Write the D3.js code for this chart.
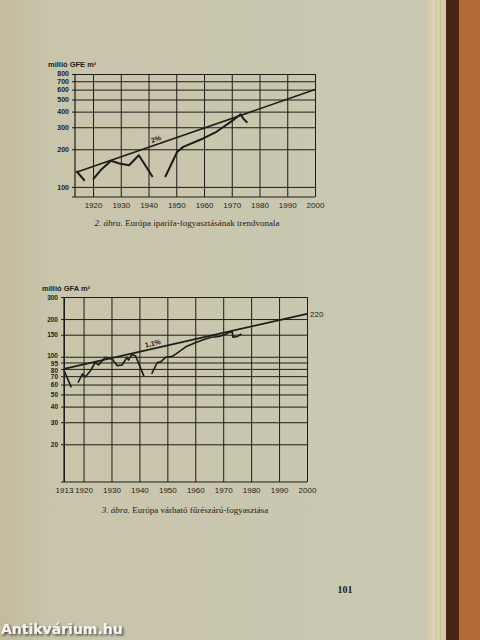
<!DOCTYPE html>
<html>
<head>
<meta charset="utf-8">
<script src="https://cdn.jsdelivr.net/npm/d3@7"></script>
<style>
  html, body { margin: 0; padding: 0; background: #c8c5ad; }
  svg { display: block; }
</style>
</head>
<body>
<div id="page"></div>
<script>
// Chart 2 (top): iparifa, millió GFE m3
var gfeYears = [1914, 1917, 1918, 1920, 1923, 1926.5, 1929.5, 1933, 1936.5, 1941.5, 1944, 1946, 1950.3, 1952.5, 1959.7, 1964.5, 1970.5, 1973.2, 1974.1, 1975.6]
var gfeValues = [134, 112, null, 115, 138, 162, 154, 149, 179, 120, null, 120, 190, 209, 244, 276, 342, 381, 353, 326]
var gfeTrendYears = [1914, 2000]
var gfeTrendValues = [131, 600]
var gfeTicks = [800, 700, 600, 500, 400, 300, 200, 100]
var gfeYearTicks = [1920, 1930, 1940, 1950, 1960, 1970, 1980, 1990, 2000]

// Chart 3 (bottom): fűrészárú, millió GFA m3
var gfaYears = [1913, 1915.6, 1917, 1918, 1919.6, 1920.6, 1922.4, 1924.2, 1925.4, 1927.8, 1930.2, 1932, 1933.8, 1935.6, 1936.1, 1937.2, 1938.6, 1941.6, 1943, 1944.4, 1946.4, 1947.6, 1949.4, 1951.8, 1953, 1956.6, 1960.2, 1962.6, 1965.7, 1968.6, 1971, 1973.2, 1973.5, 1975, 1976.5]
var gfaValues = [78, 57, null, 62, 73, 69, 77, 90, 86, 99, 96, 85, 86, 99, 94, 104, 102, 70, null, 73, 90, 91, 99, 101, 105, 120, 130, 136, 143, 145, 152, 161, 143, 145, 152]
var gfaTrendYears = [1913, 2000]
var gfaTrendValues = [80, 220]
var gfaTicks = [300, 200, 150, 100, 90, 80, 70, 60, 50, 40, 30, 20]
var gfaTickLabels = ['300', '200', '150', '100', '95', '80', '70', '60', '50', '40', '30', '20']
var gfaYearTicks = [1913, 1920, 1930, 1940, 1950, 1960, 1970, 1980, 1990, 2000]

var width = 480
var height = 640
var ink = '#1d1c18'

var svg = d3.select('#page')
  .append('svg')
  .attr('width', width)
  .attr('height', height)

// paper + page edges + cover
var defs = svg.append('defs')
var grad = defs.append('linearGradient').attr('id', 'paper')
  .attr('x1', 0).attr('x2', 1).attr('y1', 0).attr('y2', 0)
grad.append('stop').attr('offset', '0%').attr('stop-color', '#c2bb9c')
grad.append('stop').attr('offset', '12%').attr('stop-color', '#c9c5ab')
grad.append('stop').attr('offset', '100%').attr('stop-color', '#cac8b2')

var shadow = defs.append('filter').attr('id', 'shadow')
  .attr('x', '-10%').attr('y', '-40%').attr('width', '120%').attr('height', '180%')
shadow.append('feDropShadow')
  .attr('dx', 1.5).attr('dy', 1.5).attr('stdDeviation', 1)
  .attr('flood-color', '#222').attr('flood-opacity', 0.8)

svg.append('rect').attr('width', 428).attr('height', height).attr('fill', 'url(#paper)')
svg.append('rect').attr('x', 428).attr('width', 18).attr('height', height).attr('fill', '#d6ceaa')
svg.append('rect').attr('x', 433).attr('width', 1).attr('height', height).attr('fill', '#e3dcbc')
svg.append('rect').attr('x', 440).attr('width', 1).attr('height', height).attr('fill', '#c9bf95')
svg.append('rect').attr('x', 446).attr('width', 13).attr('height', height).attr('fill', '#4a2417')
svg.append('rect').attr('x', 459).attr('width', 21).attr('height', height).attr('fill', '#b26a36')

function drawChart (opt) {
  var g = svg.append('g')
  var x = d3.scaleLinear().domain(opt.xDomain).range(opt.xRange)
  var y = d3.scaleLog().domain(opt.yDomain).range(opt.yRange)

  // horizontal grid with labels
  var yAxis = d3.axisLeft(y)
    .tickValues(opt.yTicks)
    .tickFormat(function (d, i) { return opt.yLabels ? opt.yLabels[i] : d })
    .tickSize(-(opt.xRange[1] - opt.xRange[0]) - opt.tickOut)
    .tickPadding(3)
  g.append('g')
    .attr('transform', 'translate(' + (opt.xRange[0] - opt.tickOut) + ',0)')
    .call(yAxis)
    .call(function (a) {
      a.select('.domain').remove()
      a.selectAll('line').attr('stroke', ink).attr('stroke-width', 1)
      a.selectAll('text')
        .attr('fill', ink)
        .attr('font-family', 'Liberation Sans, Arial, sans-serif')
        .attr('font-weight', 'bold')
        .attr('font-size', opt.yFont)
        .attr('transform', function (d) { return 'translate(0,' + ((opt.yNudge && opt.yNudge[d]) || 0) + ')' })
    })

  // vertical grid with year labels
  var xAxis = d3.axisBottom(x)
    .tickValues(opt.xTicks)
    .tickFormat(d3.format('d'))
    .tickSize(-(opt.yRange[0] - opt.yRange[1]))
    .tickPadding(5)
  g.append('g')
    .attr('transform', 'translate(0,' + opt.yRange[0] + ')')
    .call(xAxis)
    .call(function (a) {
      a.select('.domain').remove()
      a.selectAll('line').attr('stroke', ink).attr('stroke-width', 1)
      a.selectAll('text')
        .attr('fill', ink)
        .attr('font-family', 'Liberation Sans, Arial, sans-serif')
        .attr('font-size', '8px')
    })

  // frame: left and bottom
  g.append('line')
    .attr('x1', opt.xRange[0]).attr('x2', opt.xRange[0])
    .attr('y1', opt.yRange[1]).attr('y2', opt.yRange[0])
    .attr('stroke', ink).attr('stroke-width', 1.2)
  g.append('line')
    .attr('x1', opt.xRange[0] - opt.tickOut).attr('x2', opt.xRange[1])
    .attr('y1', opt.yRange[0]).attr('y2', opt.yRange[0])
    .attr('stroke', ink).attr('stroke-width', 1.2)

  // trend line
  var trend = opt.trendYears.map(function (d, i) { return [d, opt.trendValues[i]] })
  g.append('path')
    .datum(trend)
    .attr('d', d3.line().x(function (d) { return x(d[0]) }).y(function (d) { return y(d[1]) }))
    .attr('fill', 'none')
    .attr('stroke', ink)
    .attr('stroke-width', 1.6)

  // consumption line, with gaps
  var pts = opt.years.map(function (d, i) { return [d, opt.values[i]] })
  g.append('path')
    .datum(pts)
    .attr('d', d3.line()
      .defined(function (d) { return d[1] !== null })
      .x(function (d) { return x(d[0]) })
      .y(function (d) { return y(d[1]) }))
    .attr('fill', 'none')
    .attr('stroke', ink)
    .attr('stroke-width', opt.lineWidth)
    .attr('stroke-linejoin', 'round')

  // slope label on the trend
  var ang = Math.atan2(y(trend[1][1]) - y(trend[0][1]), x(trend[1][0]) - x(trend[0][0])) * 180 / Math.PI
  var lx = x(opt.labelYear)
  var t0 = trend[0]
  var t1 = trend[1]
  var lv = Math.exp(Math.log(t0[1]) + (opt.labelYear - t0[0]) / (t1[0] - t0[0]) * (Math.log(t1[1]) - Math.log(t0[1])))
  g.append('text')
    .attr('transform', 'translate(' + lx + ',' + (y(lv) - 3) + ') rotate(' + ang + ')')
    .attr('text-anchor', 'middle')
    .attr('fill', ink)
    .attr('font-family', 'Liberation Sans, Arial, sans-serif')
    .attr('font-weight', 'bold')
    .attr('font-size', '7px')
    .text(opt.slopeLabel)

  // unit title
  g.append('text')
    .attr('x', opt.unitX)
    .attr('y', opt.unitY)
    .attr('fill', ink)
    .attr('font-family', 'Liberation Sans, Arial, sans-serif')
    .attr('font-weight', 'bold')
    .attr('font-size', '7.5px')
    .text(opt.unit)

  // caption
  var cap = g.append('text')
    .attr('x', opt.capX)
    .attr('y', opt.capY)
    .attr('text-anchor', 'middle')
    .attr('fill', ink)
    .attr('font-family', 'Liberation Serif, Times New Roman, serif')
    .attr('font-size', '9px')
  cap.append('tspan').attr('font-style', 'italic').text(opt.capNum)
  cap.append('tspan').text(' ' + opt.capText)

  return { x: x, y: y, g: g }
}

drawChart({
  xDomain: [1913.5, 2000], xRange: [75, 315],
  yDomain: [83, 800], yRange: [197, 74],
  yTicks: gfeTicks, xTicks: gfeYearTicks, tickOut: 3, yFont: '7px',
  yNudge: { 800: -0.5, 700: 0.5 },
  years: gfeYears, values: gfeValues, lineWidth: 2,
  trendYears: gfeTrendYears, trendValues: gfeTrendValues,
  labelYear: 1943, slopeLabel: '2%',
  unit: 'millió GFE m³', unitX: 48, unitY: 67,
  capX: 187, capY: 226, capNum: '2. ábra.', capText: 'Európa  iparifa-fogyasztásának  trendvonala'
})

var c3 = drawChart({
  xDomain: [1913, 2000], xRange: [64, 307],
  yDomain: [10, 300], yRange: [482, 297],
  yTicks: gfaTicks, yLabels: gfaTickLabels, xTicks: gfaYearTicks, tickOut: 3, yFont: '6.5px',
  yNudge: { 100: -1.5, 90: 0.5, 80: 1.5 },
  years: gfaYears, values: gfaValues, lineWidth: 1.6,
  trendYears: gfaTrendYears, trendValues: gfaTrendValues,
  labelYear: 1945, slopeLabel: '1,1%',
  unit: 'millió GFA m³', unitX: 42, unitY: 291,
  capX: 185, capY: 513, capNum: '3. ábra.', capText: 'Európa  várható  fűrészárú-fogyasztása'
})

// end value of the trend
c3.g.append('text')
  .attr('x', c3.x(2000) + 3)
  .attr('y', c3.y(gfaTrendValues[1]) + 3)
  .attr('fill', ink)
  .attr('font-family', 'Liberation Sans, Arial, sans-serif')
  .attr('font-size', '8px')
  .text(gfaTrendValues[1])

// page number
svg.append('text')
  .attr('x', 345)
  .attr('y', 593)
  .attr('text-anchor', 'middle')
  .attr('fill', ink)
  .attr('font-family', 'Liberation Serif, Times New Roman, serif')
  .attr('font-weight', 'bold')
  .attr('font-size', '10px')
  .text('101')

// watermark
svg.append('text')
  .attr('x', 1)
  .attr('y', 634)
  .attr('fill', '#f4f4f0')
  .attr('filter', 'url(#shadow)')
  .attr('font-family', 'DejaVu Sans, sans-serif')
  .attr('font-weight', 'bold')
  .attr('font-size', '14px')
  .text('Antikvárium.hu')
</script>
</body>
</html>
